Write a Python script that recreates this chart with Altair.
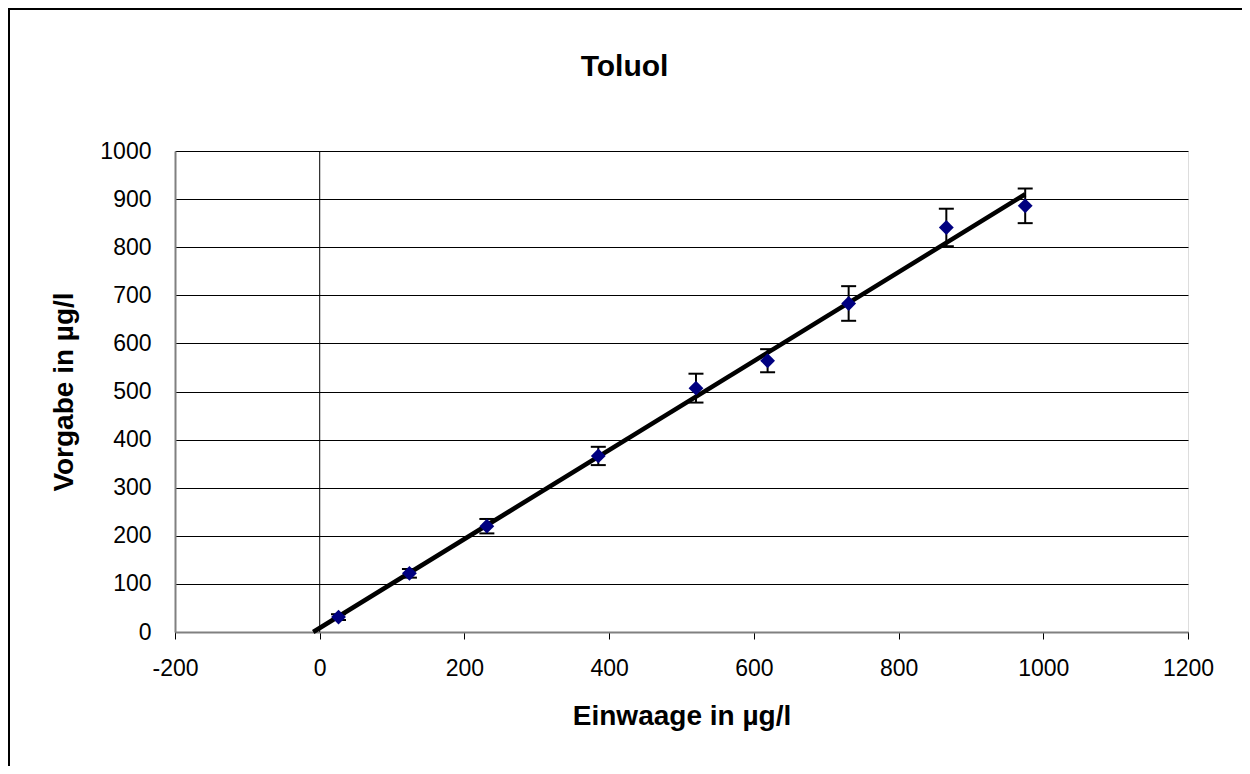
import altair as alt
import pandas as pd

# Data
einwaage = [26, 124, 231, 385, 520, 619, 731, 866, 975]
vorgabe = [31, 122, 220, 366, 507, 564, 683, 841, 886]
fehler = [6, 9, 15, 19, 30, 24, 36, 39, 36]
trend_x = [-9, 975]
trend_y = [0, 910]
zero_line_x = [0]
x_ticks = [-200, 0, 200, 400, 600, 800, 1000, 1200]
y_ticks = [0, 100, 200, 300, 400, 500, 600, 700, 800, 900, 1000]

FONT = "Liberation Sans"

df = pd.DataFrame({
    "x": einwaage,
    "y": vorgabe,
    "lo": [v - e for v, e in zip(vorgabe, fehler)],
    "hi": [v + e for v, e in zip(vorgabe, fehler)],
})
trend = pd.DataFrame({"x": trend_x, "y": trend_y})
zero_df = pd.DataFrame({"x": zero_line_x, "y": [y_ticks[0]], "y2": [y_ticks[-1]]})

xs = alt.Scale(domain=[x_ticks[0], x_ticks[-1]], nice=False, zero=False)
ys = alt.Scale(domain=[y_ticks[0], y_ticks[-1]], nice=False)

x_axis = alt.Axis(
    values=x_ticks, title="Einwaage in µg/l", grid=False,
    labelExpr="'' + datum.value",
    domainColor="#808080", domainWidth=2,
    ticks=True, tickSize=7, tickColor="#000000", tickWidth=1,
    labelFont=FONT, labelFontSize=23, labelColor="#000000", labelPadding=18,
    titleFont=FONT, titleFontSize=28, titleFontWeight="bold", titleColor="#000000",
    titlePadding=22, labelFlush=False,
)
y_axis = alt.Axis(
    values=y_ticks, title="Vorgabe in µg/l", grid=True,
    labelExpr="'' + datum.value",
    gridColor="#000000", gridWidth=1, gridOpacity=1,
    domainColor="#808080", domainWidth=2, ticks=False,
    labelFont=FONT, labelFontSize=23, labelColor="#000000", labelPadding=24,
    titleFont=FONT, titleFontSize=28, titleFontWeight="bold", titleColor="#000000",
    titlePadding=21, labelFlush=False,
)

zero_rule = alt.Chart(zero_df).mark_rule(color="#000000", strokeWidth=1).encode(
    x=alt.X("x:Q", scale=xs, axis=x_axis),
    y=alt.Y("y:Q", scale=ys, axis=y_axis),
    y2="y2:Q",
)

err = alt.Chart(df).mark_rule(color="#000000", strokeWidth=2).encode(
    x=alt.X("x:Q", scale=xs),
    y=alt.Y("lo:Q", scale=ys),
    y2="hi:Q",
)
cap_hi = alt.Chart(df).mark_tick(orient="horizontal", size=15, thickness=2, color="#000000", opacity=1).encode(
    x=alt.X("x:Q", scale=xs),
    y=alt.Y("hi:Q", scale=ys),
)
cap_lo = alt.Chart(df).mark_tick(orient="horizontal", size=15, thickness=2, color="#000000", opacity=1).encode(
    x=alt.X("x:Q", scale=xs),
    y=alt.Y("lo:Q", scale=ys),
)
line = alt.Chart(trend).mark_line(color="#000000", strokeWidth=4.5).encode(
    x=alt.X("x:Q", scale=xs),
    y=alt.Y("y:Q", scale=ys),
)
points = alt.Chart(df).mark_point(shape="diamond", filled=True, size=220, color="#000080", opacity=1).encode(
    x=alt.X("x:Q", scale=xs),
    y=alt.Y("y:Q", scale=ys),
)

# outer chart frame (top and left edges visible in the reference)
frame_top = alt.Chart(trend).mark_rule(color="#000000", strokeWidth=2).encode(
    x=alt.value(-167), x2=alt.value(1100), y=alt.value(-142)
)
frame_left = alt.Chart(trend).mark_rule(color="#000000", strokeWidth=2).encode(
    x=alt.value(-166), y=alt.value(-143), y2=alt.value(700)
)

chart = alt.layer(
    zero_rule, err, cap_hi, cap_lo, line, points, frame_top, frame_left
).properties(
    width=1013,
    height=481,
    autosize=alt.AutoSizeParams(type="none"),
    padding={"left": 167, "top": 143, "right": 54, "bottom": 134},
    title=alt.TitleParams(
        "Toluol", font=FONT, fontSize=30, fontWeight="bold", color="#000000",
        anchor="middle", frame="group", baseline="alphabetic",
        dx=-57, dy=99, offset=0,
    ),
).configure_view(
    stroke="#808080", strokeWidth=2
).configure(
    background="#ffffff"
)

chart.save("out.html", embed_options={"renderer": "svg", "actions": False})
